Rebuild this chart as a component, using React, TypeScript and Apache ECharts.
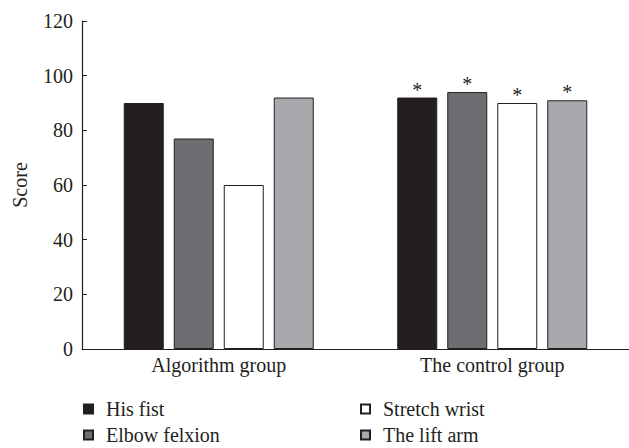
import React, { useEffect, useRef } from "react";
import * as echarts from "echarts";

const categories = ["Algorithm group", "The control group"];
const seriesNames = ["His fist", "Elbow felxion", "Stretch wrist", "The lift arm"];
const hisFist = [90, 92];
const elbowFelxion = [77, 94];
const stretchWrist = [60, 90];
const liftArm = [92, 91];
const significance = ["", "*"];
const yTicks = [0, 20, 40, 60, 80, 100, 120];

const FONT = "'Liberation Serif', 'Times New Roman', serif";
const INK = "#231f20";
const colors = ["#231f20", "#6d6e71", "#ffffff", "#a7a9ac"];

export default function App() {
  const ref = useRef<HTMLDivElement>(null);
  useEffect(() => {
    if (!ref.current) return;
    const chart = echarts.init(ref.current, undefined, { renderer: "svg" });
    const values = [hisFist, elbowFelxion, stretchWrist, liftArm];
    const series = seriesNames.map((name, i) => ({
      name,
      type: "bar",
      barWidth: 40,
      barGap: "25%",
      itemStyle: { color: colors[i], borderColor: INK, borderWidth: 1 },
      data: values[i].map((v, j) => ({
        value: v,
        label: {
          show: significance[j] !== "",
          position: "top",
          distance: -2,
          formatter: significance[j],
          fontFamily: FONT,
          fontSize: 20,
          color: INK,
        },
      })),
    }));
    const legendBase = {
      orient: "vertical",
      top: 399,
      height: 46,
      padding: 0,
      itemWidth: 9,
      itemHeight: 9,
      itemGap: 6,
      icon: "rect",
      textStyle: { fontFamily: FONT, fontSize: 20, color: INK, lineHeight: 20, padding: [0, 0, 0, 8] },
    };
    chart.setOption({
      animation: false,
      backgroundColor: "#ffffff",
      grid: { left: 82, right: -9, top: 21, bottom: 99, containLabel: false },
      legend: [
        { ...legendBase, data: [seriesNames[0], seriesNames[1]], left: 83 },
        { ...legendBase, data: [seriesNames[2], seriesNames[3]], left: 360 },
      ],
      xAxis: {
        type: "category",
        data: categories,
        boundaryGap: true,
        axisLine: { lineStyle: { color: INK, width: 1.2 } },
        axisTick: { inside: true, length: 6, lineStyle: { color: INK } },
        axisLabel: { fontFamily: FONT, fontSize: 20, color: INK, margin: 6 },
      },
      yAxis: {
        type: "value",
        min: yTicks[0],
        max: yTicks[yTicks.length - 1],
        interval: 20,
        name: "Score",
        nameLocation: "middle",
        nameGap: 52,
        nameTextStyle: { fontFamily: FONT, fontSize: 20, color: INK },
        axisLine: { show: true, lineStyle: { color: INK, width: 1.2 } },
        axisTick: { show: true, inside: true, length: 5, lineStyle: { color: INK } },
        axisLabel: { fontFamily: FONT, fontSize: 20, color: INK, margin: 9 },
        splitLine: { show: false },
      },
      series,
    });
    return () => chart.dispose();
  }, []);
  return (
    <div
      ref={ref}
      style={{ position: "fixed", left: 0, top: 0, width: 629, height: 448 }}
    />
  );
}
